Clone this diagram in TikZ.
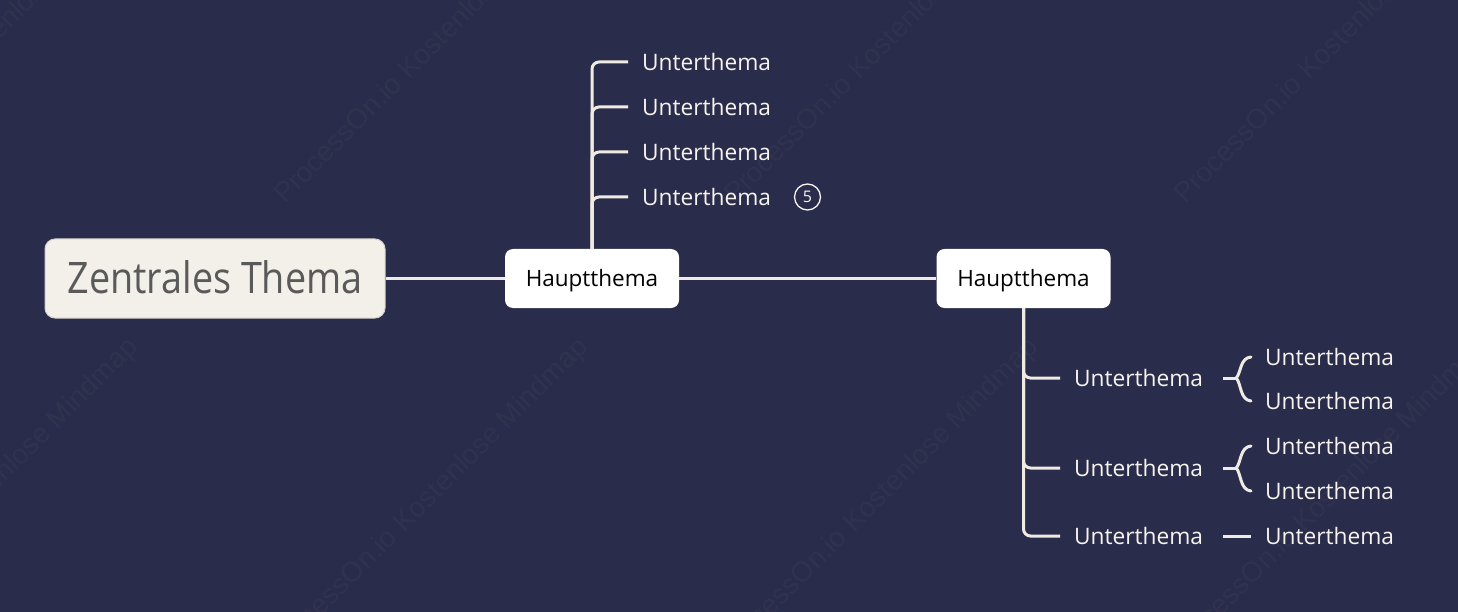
\documentclass[tikz,border=0pt]{standalone}
\usepackage{fontspec}
\setmainfont{Open Sans}
\newfontfamily\wmfont{Liberation Sans}
\newfontfamily\centralfont{Open Sans}[FakeStretch=0.87]
\definecolor{bgc}{HTML}{2A2C4B}
\definecolor{wmc}{HTML}{31324E}
\definecolor{linec}{HTML}{F0EBE2}
\definecolor{subtext}{HTML}{F7F4EE}
\definecolor{centralfill}{HTML}{F3F0E9}
\definecolor{centralborder}{HTML}{D6D1C8}
\definecolor{centraltext}{HTML}{5A5A5A}
\begin{document}
\begin{tikzpicture}[x=1pt,y=-1pt,
  conn/.style={draw=linec, line width=3pt},
  branch/.style={conn, rounded corners=7pt},
  topicbox/.style={rectangle, rounded corners=8pt, fill=white, minimum width=174pt,
    minimum height=59pt, inner sep=0pt, text height=16.5pt, text depth=0pt,
    text=black, font=\fontsize{22.5}{27}\selectfont},
  centralbox/.style={rectangle, rounded corners=10pt, fill=centralfill, draw=centralborder,
    line width=1pt, minimum width=340pt, minimum height=79pt, inner sep=0pt,
    text height=31pt, text depth=0pt,
    text=centraltext, font=\centralfont\fontsize{43.4}{50}\selectfont},
  sublabel/.style={anchor=west, inner xsep=14pt, inner ysep=0pt, text height=17pt,
    text depth=0pt, text=subtext, font=\fontsize{22.7}{27}\selectfont},
  wm/.style={anchor=base west, rotate=45, inner sep=0pt, text=wmc,
    font=\wmfont\fontsize{28}{32}\selectfont},
  badge/.style={circle, draw=subtext, line width=1.3pt, minimum size=26pt, inner sep=0pt,
    text=subtext, font=\fontsize{16}{18}\selectfont}
]
\fill[bgc] (0,0) rectangle (1458,612);
\useasboundingbox (0,0) rectangle (1458,612);
% faint watermarks
\begin{scope}
\clip (0,0) rectangle (1458,612);
\foreach \x in {-165,285,735,1185} \node[wm] (wma\x) at (\x,205) {ProcessOn.io Kostenlose Mindmap};
\foreach \x in {-170,280,730,1180} \node[wm] (wmb\x) at (\x,658) {ProcessOn.io Kostenlose Mindmap};
\end{scope}

% nodes
\node[centralbox] (c) at (215,278.5) {Zentrales Thema};
\node[topicbox] (h1) at (592,278.5) {Hauptthema};
\node[topicbox] (h2) at (1023.5,278.5) {Hauptthema};

\node[sublabel] (a1) at (628,62) {Unterthema};
\node[sublabel] (a2) at (628,107) {Unterthema};
\node[sublabel] (a3) at (628,152) {Unterthema};
\node[sublabel] (a4) at (628,197) {Unterthema};
\node[badge] (n5) at (807.5,197) {5};

\node[sublabel] (s1) at (1060,378) {Unterthema};
\node[sublabel] (s2) at (1060,468) {Unterthema};
\node[sublabel] (s3) at (1060,536) {Unterthema};

\node[sublabel] (l1) at (1251,357) {Unterthema};
\node[sublabel] (l2) at (1251,401) {Unterthema};
\node[sublabel] (l3) at (1251,446) {Unterthema};
\node[sublabel] (l4) at (1251,491) {Unterthema};
\node[sublabel] (l5) at (1251,536) {Unterthema};

% connectors
\draw[conn] (c.east) -- (h1.west);
\draw[conn] (h1.east) -- (h2.west);

\foreach \t in {a1,a2,a3,a4} \draw[branch] (h1.north) |- (\t.west);
\foreach \t in {s1,s2,s3} \draw[branch] (h2.south) |- (\t.west);

\draw[conn] ([xshift=6pt]s1.east) -- ++(13,0) coordinate (j1);
\draw[conn, line cap=round] (j1) .. controls +(5,-6) and +(-11,1) .. (l1.west);
\draw[conn, line cap=round] (j1) .. controls +(5,6) and +(-11,-1) .. (l2.west);
\draw[conn] ([xshift=6pt]s2.east) -- ++(13,0) coordinate (j2);
\draw[conn, line cap=round] (j2) .. controls +(5,-6) and +(-11,1) .. (l3.west);
\draw[conn, line cap=round] (j2) .. controls +(5,6) and +(-11,-1) .. (l4.west);
\draw[conn] ([xshift=6pt]s3.east) -- (l5.west);
\end{tikzpicture}
\end{document}
